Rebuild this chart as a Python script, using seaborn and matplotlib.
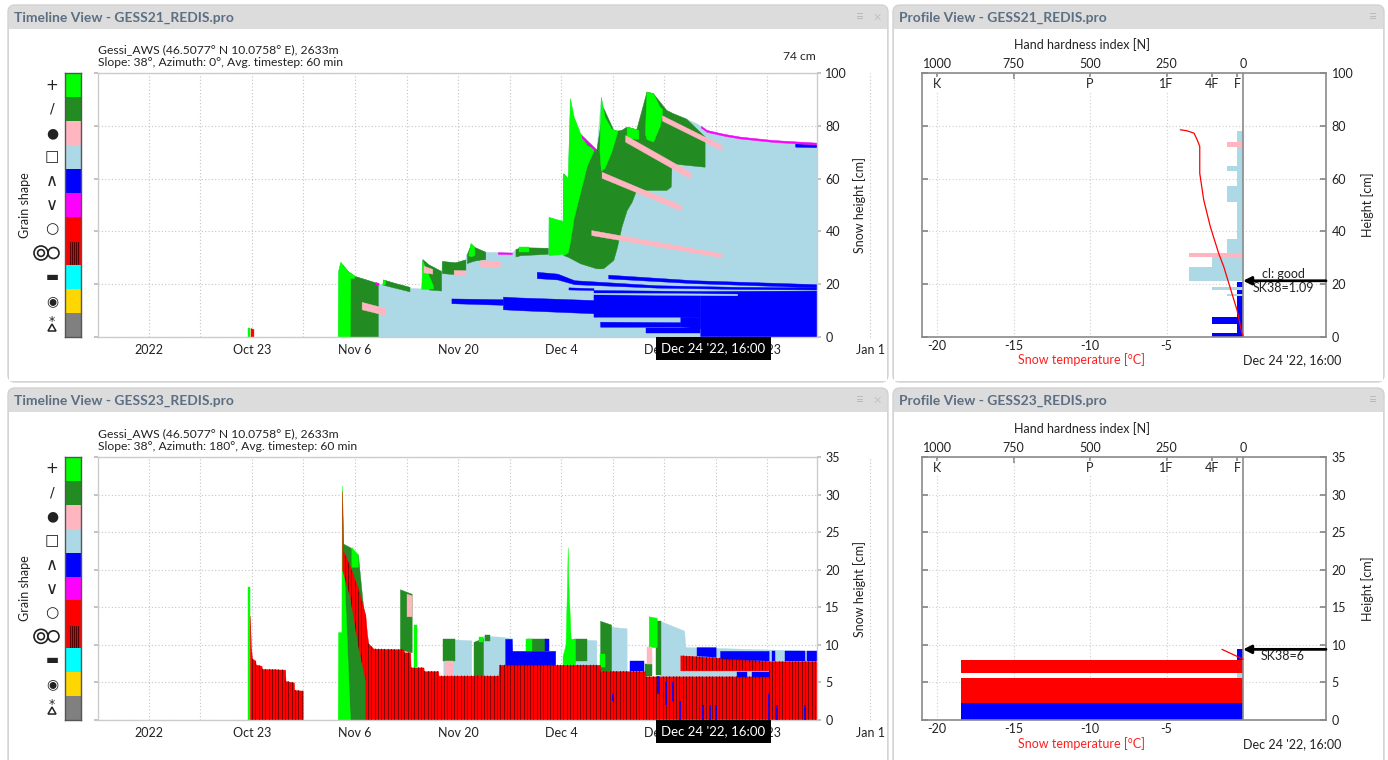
import numpy as np
import pandas as pd
import matplotlib
matplotlib.use("Agg")
import matplotlib.pyplot as plt
from matplotlib.collections import LineCollection
from matplotlib.patches import FancyBboxPatch, Rectangle, Circle, Polygon
import seaborn as sns

# ---------------------------------------------------------------- data
GRAIN_COLORS = {"PP": "#00ff00", "DF": "#228b22", "RG": "#ffb6c1", "FC": "#add8e6",
                "DH": "#0000ff", "SH": "#ff00ff", "MF": "#ff0000", "MFcr": "#ff0000",
                "IF": "#00ffff", "PPgp": "#ffd700", "MM": "#808080"}
legend_codes = ["PP", "DF", "RG", "FC", "DH", "SH", "MF", "MFcr", "IF", "PPgp", "MM"]
legend_symbols = ["+", "/", "\u25CF", "\u25A1", "\u2227", "\u2228", "\u25CB", None, "\u25AC", "\u25C9", "*"]

# time axis: days relative to Oct 23 2022
tick_days = [-14, 0, 14, 28, 42, 56, 70]
tick_labels = ["2022", "Oct 23", "Nov 6", "Nov 20", "Dec 4", "Dec 18", "2023"]
minor_days = [-7, 7, 21, 35, 49, 63]
extra_day, extra_label = 84, "Jan 1"
cursor_day, cursor_label = 62.67, "Dec 24 '22, 16:00"

station_line = "Gessi_AWS (46.5077\u00b0 N 10.0758\u00b0 E), 2633m"
slope_21 = "Slope: 38\u00b0, Azimuth: 0\u00b0, Avg. timestep: 60 min"
slope_23 = "Slope: 38\u00b0, Azimuth: 180\u00b0, Avg. timestep: 60 min"

# ---- GESS21 timeline: total snow height (day, cm)
g21_snow_height = [(11.65, 0), (11.7, 25.0), (12.0, 28.5), (13.0, 25.0), (14.0, 23.0), (15.5, 21.8),
                   (17.1, 20.4), (17.7, 19.9), (17.8, 21.8), (19.5, 20.4), (21.4, 19.0), (21.5, 18.6),
                   (23.0, 18.4), (23.15, 29.5), (24.0, 27.5), (25.7, 25.0), (25.8, 28.8), (27.6, 28.3),
                   (29.0, 29.4), (29.05, 31.5), (29.5, 31.5), (29.7, 35.6), (30.3, 34.0), (31.7, 32.3),
                   (35.3, 32.0), (35.8, 33.3), (36.5, 34.0), (40.2, 33.8), (40.3, 45.5), (41.5, 44.5),
                   (42.2, 44.0), (42.3, 62.0), (42.9, 60.0), (43.2, 90.4), (43.7, 83.5), (44.6, 77.0),
                   (45.5, 72.7), (46.8, 71.0), (47.4, 91.0), (47.9, 83.5), (49.1, 78.4), (50.0, 78.0),
                   (50.9, 79.7), (52.7, 78.4), (53.6, 93.0), (54.5, 92.3), (55.4, 87.2), (57.2, 84.7),
                   (58.6, 83.2), (60.4, 80.9), (61.8, 78.4), (64.2, 76.9), (66.3, 75.9), (70.8, 74.6),
                   (76.8, 73.6)]
# layer bands (day, lower cm, upper cm)
g21_DF = [
    [(12.3, 0, 27.4), (13.0, 0, 25.0), (13.9, 0, 23.2), (15.5, 0, 21.8), (17.1, 0, 20.4)],
    [(17.8, 19.8, 21.8), (19.5, 18.6, 20.4), (21.4, 17.3, 19.0)],
    [(23.15, 25.5, 29.5), (24.0, 18.0, 27.5), (25.7, 17.6, 25.0)],
    [(25.8, 24.2, 28.8), (27.6, 23.8, 28.3), (29.0, 25.4, 29.4)],
    [(29.2, 28.0, 31.5), (29.7, 28.5, 35.0), (30.3, 29.0, 34.0), (31.7, 29.5, 32.3)],
    [(35.8, 30.5, 33.3), (36.5, 31.0, 34.0), (40.2, 31.5, 33.8)],
    [(42.3, 31.0, 62.0), (42.9, 30.4, 60.0), (44.6, 27.9, 77.0), (46.8, 26.0, 71.0), (47.7, 26.0, 87.0),
     (49.1, 29.2, 78.4), (49.6, 34.2, 78.2), (50.2, 41.8, 78.5), (50.9, 48.0, 79.7), (51.6, 51.3, 79.2),
     (52.2, 55.7, 78.6), (53.6, 55.7, 93.0), (54.5, 55.7, 92.3), (56.3, 55.7, 86.0), (56.9, 57.0, 85.2),
     (57.0, 65.8, 85.0), (59.0, 65.2, 82.7), (61.5, 64.5, 76.0)],
]
g21_PP = [
    [(-0.5, 0, 3.4), (-0.2, 0, 3.4)],
    [(11.65, 0, 0.0), (11.7, 0, 25.0), (12.0, 0, 28.5), (12.3, 0, 27.4), (13.0, 0, 25.0),
     (13.3, 0, 24.4), (13.35, 22.4, 24.3), (13.9, 22.4, 23.2)],
    [(17.7, 19.8, 19.9), (17.8, 19.8, 21.8), (18.1, 20.2, 21.5)],
    [(23.0, 18.2, 18.4), (23.15, 18.2, 29.0), (23.6, 18.2, 26.0), (24.6, 18.4, 19.5)],
    [(29.4, 31.0, 31.5), (29.7, 30.5, 35.6), (30.2, 31.0, 34.2)],
    [(36.3, 32.3, 34.0), (37.7, 32.3, 34.0)],
    [(40.3, 31.0, 45.5), (41.5, 31.3, 44.5), (42.2, 31.5, 44.0), (42.3, 31.0, 62.0), (42.9, 32.0, 60.0),
     (43.2, 36.0, 90.4), (43.7, 45.0, 83.5), (44.6, 55.0, 77.0), (45.5, 65.0, 72.7), (46.4, 70.5, 71.4)],
    [(47.2, 70.5, 71.5), (47.4, 63.0, 91.0), (47.9, 64.0, 83.5), (48.8, 70.0, 79.0), (49.6, 77.5, 78.2)],
    [(50.9, 75.5, 79.7), (52.5, 75.0, 78.5)],
    [(53.4, 77.0, 78.5), (53.6, 75.0, 93.0), (54.5, 74.0, 92.3), (55.4, 80.0, 87.2), (55.7, 84.5, 86.5)],
]
g21_RG = [
    [(14.9, 10.5, 13.3), (18.1, 8.3, 11.0)],
    [(23.3, 24.5, 27.0), (24.5, 24.0, 25.8)],
    [(27.4, 23.5, 25.4), (29.0, 23.5, 25.3)],
    [(31.0, 26.8, 29.2), (33.7, 26.6, 28.5)],
    [(46.1, 38.6, 40.5), (63.8, 30.2, 31.7)],
    [(47.5, 60.3, 62.6), (58.2, 48.0, 50.0)],
    [(50.7, 74.0, 76.5), (59.5, 60.1, 62.6)],
    [(55.7, 82.0, 84.0), (63.8, 70.8, 72.7)],
]
g21_DH = [
    [(27.1, 12.8, 14.6), (34.1, 12.2, 14.3)],
    [(34.1, 10.5, 15.3), (36.0, 10.2, 15.0), (46.4, 9.0, 14.0)],
    [(46.4, 7.7, 17.8), (60.9, 7.7, 17.4)],
    [(47.3, 3.9, 5.8), (58.2, 3.9, 5.6)],
    [(53.6, 1.4, 3.3), (60.9, 1.4, 3.3)],
    [(58.2, 3.9, 7.7), (60.9, 3.3, 7.7)],
    [(60.9, 0.0, 17.4), (76.8, 0.0, 17.6)],
    [(38.7, 22.3, 24.7), (41.5, 21.8, 24.0), (43.8, 20.0, 21.5), (55.0, 18.7, 19.6), (65.9, 18.2, 19.0),
     (76.8, 18.0, 18.8)],
    [(48.4, 22.2, 23.6), (60.0, 20.4, 21.5), (76.8, 18.8, 20.0)],
    [(43.0, 18.0, 18.8), (46.4, 17.8, 18.5)],
    [(73.8, 72.1, 73.3), (76.8, 71.9, 72.9)],
]
g21_FC_lines = [[(46.0, 16.2, 16.8), (65.9, 15.8, 16.4)]]
g21_SH = [
    [(16.8, 20.0, 20.8), (17.2, 19.8, 20.5)],
    [(33.4, 31.5, 32.1), (35.3, 31.4, 32.0)],
    [(44.8, 75.4, 76.2), (46.6, 70.6, 71.3)],
    [(61.0, 79.3, 80.0), (61.8, 77.7, 78.4), (64.2, 76.2, 76.9), (66.3, 75.2, 75.9), (70.8, 73.9, 74.6),
     (76.8, 72.9, 73.6)],
]
g21_MF = [[(-0.2, 0, 3.4), (0.2, 0, 3.0)]]

# ---- GESS23 timeline
g23_FC = [
    [(26.0, 5.9, 10.8), (29.8, 5.9, 10.6)],
    [(31.4, 5.9, 11.2), (33.5, 5.9, 11.1), (35.3, 7.3, 10.9)],
    [(43.4, 7.3, 10.8), (46.8, 7.3, 10.6)],
    [(48.8, 6.5, 12.4), (50.9, 6.5, 12.2)],
    [(55.4, 5.5, 13.2), (58.7, 5.5, 11.9), (58.9, 5.5, 9.7), (76.8, 5.5, 9.2)],
]
g23_DF = [
    [(12.35, 19.5, 23.5), (13.3, 0, 23.0), (14.4, 0, 22.0), (15.0, 0, 16.0), (15.5, 0, 12.0)],
    [(20.1, 9.4, 17.4), (21.7, 9.0, 16.8)],
    [(26.0, 7.9, 10.8), (27.6, 7.9, 10.8)],
    [(30.1, 5.9, 10.4), (31.4, 5.9, 10.9)],
    [(31.6, 10.5, 11.3), (32.3, 10.5, 11.3)],
    [(37.5, 9.2, 10.8), (40.0, 9.2, 10.8)],
    [(43.7, 7.9, 10.8), (45.5, 7.9, 10.8)],
    [(47.3, 6.5, 13.2), (48.8, 6.5, 12.7)],
    [(53.4, 5.8, 7.5), (54.3, 5.8, 7.5)],
    [(54.9, 6.0, 13.2), (55.6, 6.0, 13.2)],
]
g23_PP = [
    [(-0.55, 0, 17.7), (-0.3, 0, 17.7)],
    [(11.65, 0, 0.0), (11.7, 0, 11.7), (12.15, 0, 11.7), (12.2, 0, 31.2), (12.35, 0, 23.5), (13.3, 0, 0.5)],
    [(13.5, 20.4, 23.0), (14.4, 20.4, 22.0)],
    [(22.05, 7.0, 12.6), (22.4, 7.0, 12.6)],
    [(30.8, 10.4, 11.0), (31.4, 10.4, 11.0)],
    [(37.2, 9.2, 10.8), (38.0, 9.2, 10.8)],
    [(42.2, 7.4, 8.5), (42.6, 7.4, 10.0), (42.8, 7.4, 18.0), (42.9, 7.4, 23.0), (43.0, 7.4, 18.0),
     (43.3, 7.4, 10.8), (43.9, 7.4, 10.8)],
    [(47.3, 7.0, 8.8), (48.0, 7.0, 8.8)],
    [(53.9, 9.7, 13.8), (55.0, 9.7, 13.6)],
]
g23_RG = [
    [(21.0, 13.8, 16.8), (21.7, 13.8, 16.6)],
    [(26.2, 5.9, 7.9), (27.3, 5.9, 7.9)],
    [(53.7, 7.5, 9.7), (54.3, 7.5, 9.7)],
]
g23_MF = [
    [(-0.3, 0, 13.9), (-0.15, 0, 10.0), (0.0, 0, 8.2), (0.45, 0, 7.9), (0.5, 0, 7.4), (1.3, 0, 7.2),
     (1.35, 0, 6.8), (4.5, 0, 6.7), (4.55, 0, 5.2), (5.7, 0, 5.0), (5.75, 0, 4.0), (6.9, 0, 3.9)],
    [(12.25, 20.0, 30.5), (12.4, 19.5, 22.5), (13.3, 16.5, 20.5), (14.4, 10.0, 17.5), (15.4, 5.3, 14.0)],
    [(15.4, 0, 14.0), (15.6, 0, 11.7), (15.8, 0, 10.2), (16.5, 0, 9.5), (20.6, 0, 9.4), (20.65, 0, 9.0),
     (21.5, 0, 9.0), (21.55, 0, 7.0), (23.3, 0, 7.0), (23.35, 0, 6.5), (25.3, 0, 6.5), (25.35, 0, 5.9),
     (33.5, 0, 5.9), (33.55, 0, 7.35), (47.3, 0, 7.35), (47.35, 0, 6.5), (53.4, 0, 6.5), (53.45, 0, 5.8),
     (70.2, 0, 5.8), (70.25, 0, 7.8), (76.8, 0, 7.8)],
    [(58.2, 6.6, 8.6), (61.5, 6.6, 8.4), (66.0, 6.6, 8.1), (70.2, 6.6, 7.8)],
]
g23_DH = [
    [(34.4, 7.35, 10.8), (35.3, 7.35, 10.8), (35.35, 7.35, 9.2), (41.2, 7.35, 9.2)],
    [(39.8, 9.2, 10.8), (40.3, 9.2, 10.8)],
    [(51.4, 6.5, 7.9), (53.2, 6.5, 7.9)],
    [(60.4, 8.6, 9.7), (63.0, 8.4, 9.7)],
    [(63.6, 8.2, 9.2), (70.2, 7.9, 9.2)],
    [(70.6, 7.8, 9.2), (71.1, 7.8, 9.2)],
    [(72.4, 7.8, 9.2), (75.1, 7.8, 9.2)],
    [(75.4, 7.8, 9.2), (76.8, 7.8, 9.2)],
    [(65.9, 5.7, 6.4), (67.2, 5.7, 6.4)],
    [(67.9, 5.7, 6.4), (70.2, 5.7, 6.4)],
]
g23_DH_streak_day = [49.1, 55.2, 56.3, 57.2, 58.2, 61.3, 62.2, 63.1, 70.2, 71.3, 75.2]
g23_DH_streak_lo = [2.5, 3.5, 2.0, 2.5, 0.0, 0.0, 0.0, 0.0, 0.0, 0.0, 0.0]
g23_DH_streak_hi = [3.5, 5.8, 5.0, 5.0, 2.5, 2.0, 2.0, 2.0, 3.5, 2.0, 2.0]

# ---- profiles at Dec 24 '22 16:00
p21_bottom = [0.0, 1.7, 5.1, 7.6, 15.5, 16.2, 17.7, 19.0, 21.2, 26.6, 30.4, 31.9, 37.1, 51.3, 57.3, 63.0, 64.9, 71.9, 73.7, 77.5]
p21_top = [1.7, 5.1, 7.6, 15.5, 16.2, 17.7, 19.0, 20.8, 26.6, 30.4, 31.9, 37.1, 51.3, 57.3, 63.0, 64.9, 71.9, 73.7, 77.5, 78.2]
p21_hardness = [103, 20, 103, 20, 52, 20, 103, 20, 175, 103, 175, 52, 20, 52, 20, 52, 20, 52, 20, 20]
p21_grain = ["DH", "DH", "DH", "DH", "FC", "DH", "FC", "DH", "FC", "FC", "RG", "FC", "FC", "FC", "FC", "FC", "FC", "RG", "FC", "RG"]
p21_temp_height = [0.5, 1.3, 10.1, 26.6, 31.6, 41.8, 51.9, 62.0, 72.2, 74.7, 77.2, 78.1, 78.5]
p21_temp = [0.0, -0.07, -0.39, -1.26, -1.59, -2.14, -2.57, -2.83, -2.83, -3.0, -3.2, -3.66, -4.1]
p21_stab_height = 21.3
p21_stab_text = ("cl: good", "SK38=1.09")

p23_bottom = [0.0, 2.2, 5.6, 6.3, 8.0]
p23_top = [2.2, 5.6, 6.3, 8.0, 9.5]
p23_hardness = [920, 920, 20, 920, 20]
p23_grain = ["DH", "MF", "FC", "MF", "DH"]
p23_temp_height = [9.4, 8.1]
p23_temp = [-1.38, 0.0]
p23_stab_height = 9.4
p23_stab_text = (None, "SK38=6")

hardness_ticks = [1000, 750, 500, 250, 0]
hand_ticks = [1000, 750, 500, 250, 100, 20]
hand_labels = ["K", "", "P", "1F", "4F", "F"]
temp_ticks = [-20, -15, -10, -5]

# ---------------------------------------------------------------- style
sns.set_theme(style="white")
plt.rcParams["font.family"] = ["Lato", "DejaVu Sans"]
plt.rcParams["axes.unicode_minus"] = False
TXT = "#222222"
W, H = 1388, 760
fig = plt.figure(figsize=(W / 100, H / 100), dpi=100)
fig.patch.set_facecolor("white")


def box(x0, y0, x1, y1):
    return [x0 / W, 1 - y1 / H, (x1 - x0) / W, (y1 - y0) / H]


def ftext(x, y, s, **kw):
    kw.setdefault("color", TXT)
    kw.setdefault("va", "center")
    return fig.text(x / W, 1 - y / H, s, **kw)


# ---- panel frames
bg = fig.add_axes([0, 0, 1, 1], zorder=-10)
bg.set_xlim(0, W)
bg.set_ylim(H, 0)
bg.axis("off")
panels = [((8, 5, 888, 382), "Timeline View - GESS21_REDIS.pro", True),
          ((893, 5, 1384, 382), "Profile View - GESS21_REDIS.pro", False),
          ((8, 388, 888, 790), "Timeline View - GESS23_REDIS.pro", True),
          ((893, 388, 1384, 790), "Profile View - GESS23_REDIS.pro", False)]
for (x0, y0, x1, y1), title, closable in panels:
    bg.add_patch(FancyBboxPatch((x0, y0), x1 - x0, y1 - y0, boxstyle="round,pad=0,rounding_size=7",
                                fc="#dcdcdc", ec="#d2d2d2", lw=1))
    bg.add_patch(Rectangle((x0 + 1, y0 + 24), x1 - x0 - 2, y1 - y0 - 25, fc="white", ec="none"))
    ftext(x0 + 6, y0 + 12.5, title, fontsize=10, fontweight="bold", color="#5b6e82")
    if closable:
        ftext(x1 - 28, y0 + 12, "\u2261", fontsize=10, color="#b9b9b9", ha="center")
        ftext(x1 - 11, y0 + 12, "\u2715", fontsize=8, color="#c4c4c4", ha="center")
    else:
        ftext(x1 - 11, y0 + 12, "\u2261", fontsize=10, color="#b9b9b9", ha="center")


def fill_bands(ax, bands, code, ymax, stripes=False):
    col = GRAIN_COLORS[code]
    for band in bands:
        t, lo, hi = (list(v) for v in zip(*band))
        poly = ax.fill_between(t, lo, hi, color=col, lw=0.3, edgecolor=col, zorder=2)
        if stripes:
            xs = np.arange(np.ceil(t[0] / 0.45) * 0.45, t[-1], 0.45)
            lc = LineCollection([[(x, 0), (x, ymax)] for x in xs], colors="#6a0000",
                                linewidths=0.6, zorder=2.1)
            lc.set_clip_path(poly.get_paths()[0], poly.get_transform())
            ax.add_collection(lc)


def legend_column(y0, y1):
    lg = fig.add_axes(box(65, y0, 81, y1))
    lg.set_xlim(0, 1)
    lg.set_ylim(len(legend_codes), 0)
    for i, code in enumerate(legend_codes):
        lg.add_patch(Rectangle((0, i), 1, 1, fc=GRAIN_COLORS[code], ec="none"))
        if code == "MFcr":
            for fx in [0.3, 0.42, 0.55, 0.67, 0.8]:
                lg.plot([fx, fx], [i + 0.05, i + 0.95], color="#550000", lw=0.8)
    lg.set_xticks([])
    lg.set_yticks([])
    for s in lg.spines.values():
        s.set_color("#555555")
        s.set_linewidth(1)
    sy = fig.add_axes(box(28, y0, 64, y1))
    sy.set_xlim(28, 64)
    sy.set_ylim(y1, y0)
    sy.axis("off")
    cell = (y1 - y0) / len(legend_codes)
    sizes = [11, 10, 10, 11, 12, 12, 11, None, 10, 10, 9]
    offsets = [0, 0, 0, 0, 0, 0, 0, 0, 0, 0, -4]
    for i, sym in enumerate(legend_symbols):
        cy = y0 + cell * (i + 0.5)
        if sym is not None:
            sy.text(52, cy + offsets[i], sym, ha="center", va="center", fontsize=sizes[i],
                    color="#222222", family=["DejaVu Sans"])
    cy = y0 + cell * 7.5
    sy.add_patch(Circle((41, cy), 7, fill=False, ec="#222222", lw=1.2))
    sy.add_patch(Circle((41, cy), 3.4, fill=False, ec="#222222", lw=1.2))
    sy.add_patch(Circle((53.5, cy), 5.5, fill=False, ec="#222222", lw=1.2))
    cy = y0 + cell * 10.5
    sy.add_patch(Polygon([(48, cy + 6), (56, cy + 6), (52, cy - 1)], closed=True, fill=False,
                         ec="#222222", lw=1.1))
    ftext(25, (y0 + y1) / 2, "Grain shape", rotation=90, ha="center", fontsize=9)


def setup_timeline(ax, ymax, ystep):
    ax.set_xlim(-20.92, 76.77)
    ax.set_ylim(0, ymax)
    ax.set_xticks(tick_days, tick_labels)
    ax.set_xticks(minor_days, minor=True)
    ax.set_yticks(list(range(0, ymax + 1, ystep)))
    ax.grid(True, which="both", axis="x", ls=(0, (1, 2)), color="#c4c4c4", lw=0.8)
    ax.grid(True, which="major", axis="y", ls=(0, (1, 2)), color="#c4c4c4", lw=0.8)
    ax.set_axisbelow(True)
    ax.tick_params(axis="x", which="both", length=0, labelsize=9, labelcolor=TXT, pad=5)
    ax.tick_params(axis="y", left=True, right=True, labelleft=False, labelright=True, length=3,
                   color="#bbbbbb", labelsize=9, labelcolor=TXT, pad=3, direction="out")
    for s in ax.spines.values():
        s.set_color("#cccccc")
        s.set_linewidth(1)
    ax.plot([extra_day, extra_day], [0, ymax], ls=(0, (1, 2)), color="#c4c4c4", lw=0.8, clip_on=False)
    ax.text(extra_day, -0.048, extra_label, transform=ax.get_xaxis_transform(), ha="center",
            va="center", fontsize=9, color=TXT, clip_on=False)
    ax.text(cursor_day, -0.042, cursor_label, transform=ax.get_xaxis_transform(), ha="center",
            va="center", fontsize=9.5, color="white", zorder=30, clip_on=False,
            bbox=dict(boxstyle="square,pad=0.42", fc="black", ec="none"))


# ---- GESS21 timeline
ax1 = fig.add_axes(box(98, 73, 817, 337))
setup_timeline(ax1, 100, 20)
t_hs, h_hs = zip(*g21_snow_height)
ax1.fill_between(t_hs, 0, h_hs, color=GRAIN_COLORS["FC"], lw=0.3, edgecolor=GRAIN_COLORS["FC"], zorder=2)
fill_bands(ax1, g21_DF, "DF", 100)
fill_bands(ax1, g21_PP, "PP", 100)
fill_bands(ax1, g21_RG, "RG", 100)
fill_bands(ax1, g21_DH, "DH", 100)
fill_bands(ax1, g21_FC_lines, "FC", 100)
fill_bands(ax1, g21_SH, "SH", 100)
fill_bands(ax1, g21_MF, "MF", 100)
legend_column(73, 337)
ftext(98, 50, station_line, fontsize=8.7)
ftext(98, 62, slope_21, fontsize=8.7)
ftext(816, 56, "74 cm", fontsize=8.7, ha="right")
ftext(860, 205, "Snow height [cm]", rotation=90, ha="center", fontsize=9)

# ---- GESS23 timeline
ax2 = fig.add_axes(box(98, 457, 817, 720))
setup_timeline(ax2, 35, 5)
fill_bands(ax2, g23_FC, "FC", 35)
fill_bands(ax2, g23_DF, "DF", 35)
fill_bands(ax2, g23_PP, "PP", 35)
fill_bands(ax2, g23_RG, "RG", 35)
fill_bands(ax2, g23_MF, "MF", 35, stripes=True)
fill_bands(ax2, g23_DH, "DH", 35)
ax2.vlines(g23_DH_streak_day, g23_DH_streak_lo, g23_DH_streak_hi, color=GRAIN_COLORS["DH"], lw=1.2, zorder=3)
legend_column(457, 720)
ftext(98, 434, station_line, fontsize=8.7)
ftext(98, 446, slope_23, fontsize=8.7)
ftext(860, 589, "Snow height [cm]", rotation=90, ha="center", fontsize=9)


# ---- profiles
def draw_profile(ax, ymax, ystep, bottoms, tops, hard, grains, th, tT, stab_h, stab_txt, y_off):
    ax.set_xlim(-20.98, 5.42)
    ax.set_ylim(0, ymax)
    widths = [-n / 50.0 for n in hard]
    heights = [t - b for b, t in zip(bottoms, tops)]
    ax.barh(bottoms, widths, height=heights, left=0, align="edge",
            color=[GRAIN_COLORS[g] for g in grains], lw=0, zorder=2)
    ax.axvline(0, color="#8a8a8a", lw=1.2, zorder=3)
    sns.lineplot(x=tT, y=th, orient="y", sort=True, estimator=None, color="red", lw=0.9, ax=ax, zorder=4)
    ax.set_xlabel("")
    ax.set_ylabel("")
    ax.set_xticks(temp_ticks, [str(v) for v in temp_ticks])
    ax.set_yticks(list(range(0, ymax + 1, ystep)))
    ax.grid(True, axis="both", ls=(0, (1, 2)), color="#cfcfcf", lw=0.8)
    ax.set_axisbelow(True)
    ax.tick_params(axis="x", length=0, labelsize=9, labelcolor=TXT, pad=2)
    ax.tick_params(axis="y", left=True, right=True, labelleft=False, labelright=True, direction="in",
                   length=4, color="#888888", labelsize=9, labelcolor=TXT, pad=4)
    for s in ax.spines.values():
        s.set_color("#8a8a8a")
        s.set_linewidth(1.2)
    sec = ax.secondary_xaxis("top", functions=(lambda T: -50.0 * T, lambda N: -N / 50.0))
    sec.set_xticks(hardness_ticks, [str(v) for v in hardness_ticks])
    sec.tick_params(length=0, labelsize=9, labelcolor=TXT, pad=2)
    for s in sec.spines.values():
        s.set_visible(False)
    sec2 = ax.secondary_xaxis("top", functions=(lambda T: -50.0 * T, lambda N: -N / 50.0))
    sec2.set_xticks(hand_ticks, ["" for _ in hand_ticks])
    sec2.tick_params(direction="in", length=4, color="#888888")
    for s in sec2.spines.values():
        s.set_visible(False)
    for n, lab in zip(hand_ticks, hand_labels):
        if lab:
            ax.text(-n / 50.0, 1 - 11 / 264, lab, transform=ax.get_xaxis_transform(), ha="center",
                    va="center", fontsize=9, color=TXT, zorder=5,
                    bbox=dict(boxstyle="square,pad=0.05", fc="white", ec="none"))
    ax.annotate("", xy=(0, stab_h), xytext=(5.42, stab_h),
                arrowprops=dict(arrowstyle="-|>", color="black", lw=2, mutation_scale=12,
                                shrinkA=0, shrinkB=0), zorder=6, annotation_clip=False)
    above, below = stab_txt
    if above:
        ax.annotate(above, xy=(2.61, stab_h), xytext=(0, 7), textcoords="offset pixels",
                    ha="center", va="center", fontsize=9, color=TXT)
    if below:
        ax.annotate(below, xy=(2.61, stab_h), xytext=(0, -7), textcoords="offset pixels",
                    ha="center", va="center", fontsize=9, color=TXT)
    ftext(1082, 45 + y_off, "Hand hardness index [N]", ha="center", fontsize=9)
    ftext(1082, 360 + y_off, "Snow temperature [\u00b0C]", ha="center", fontsize=9, color="#ff2020")
    ftext(1243, 360 + y_off, cursor_label, ha="left", fontsize=9)
    ftext(1368, 205 + y_off, "Height [cm]", rotation=90, ha="center", fontsize=9)


ax3 = fig.add_axes(box(922, 73, 1326, 337))
draw_profile(ax3, 100, 20, p21_bottom, p21_top, p21_hardness, p21_grain, p21_temp_height, p21_temp,
             p21_stab_height, p21_stab_text, 0)
ax4 = fig.add_axes(box(922, 457, 1326, 720))
draw_profile(ax4, 35, 5, p23_bottom, p23_top, p23_hardness, p23_grain, p23_temp_height, p23_temp,
             p23_stab_height, p23_stab_text, 384)

fig.savefig("out.png", dpi=100, facecolor="white")
